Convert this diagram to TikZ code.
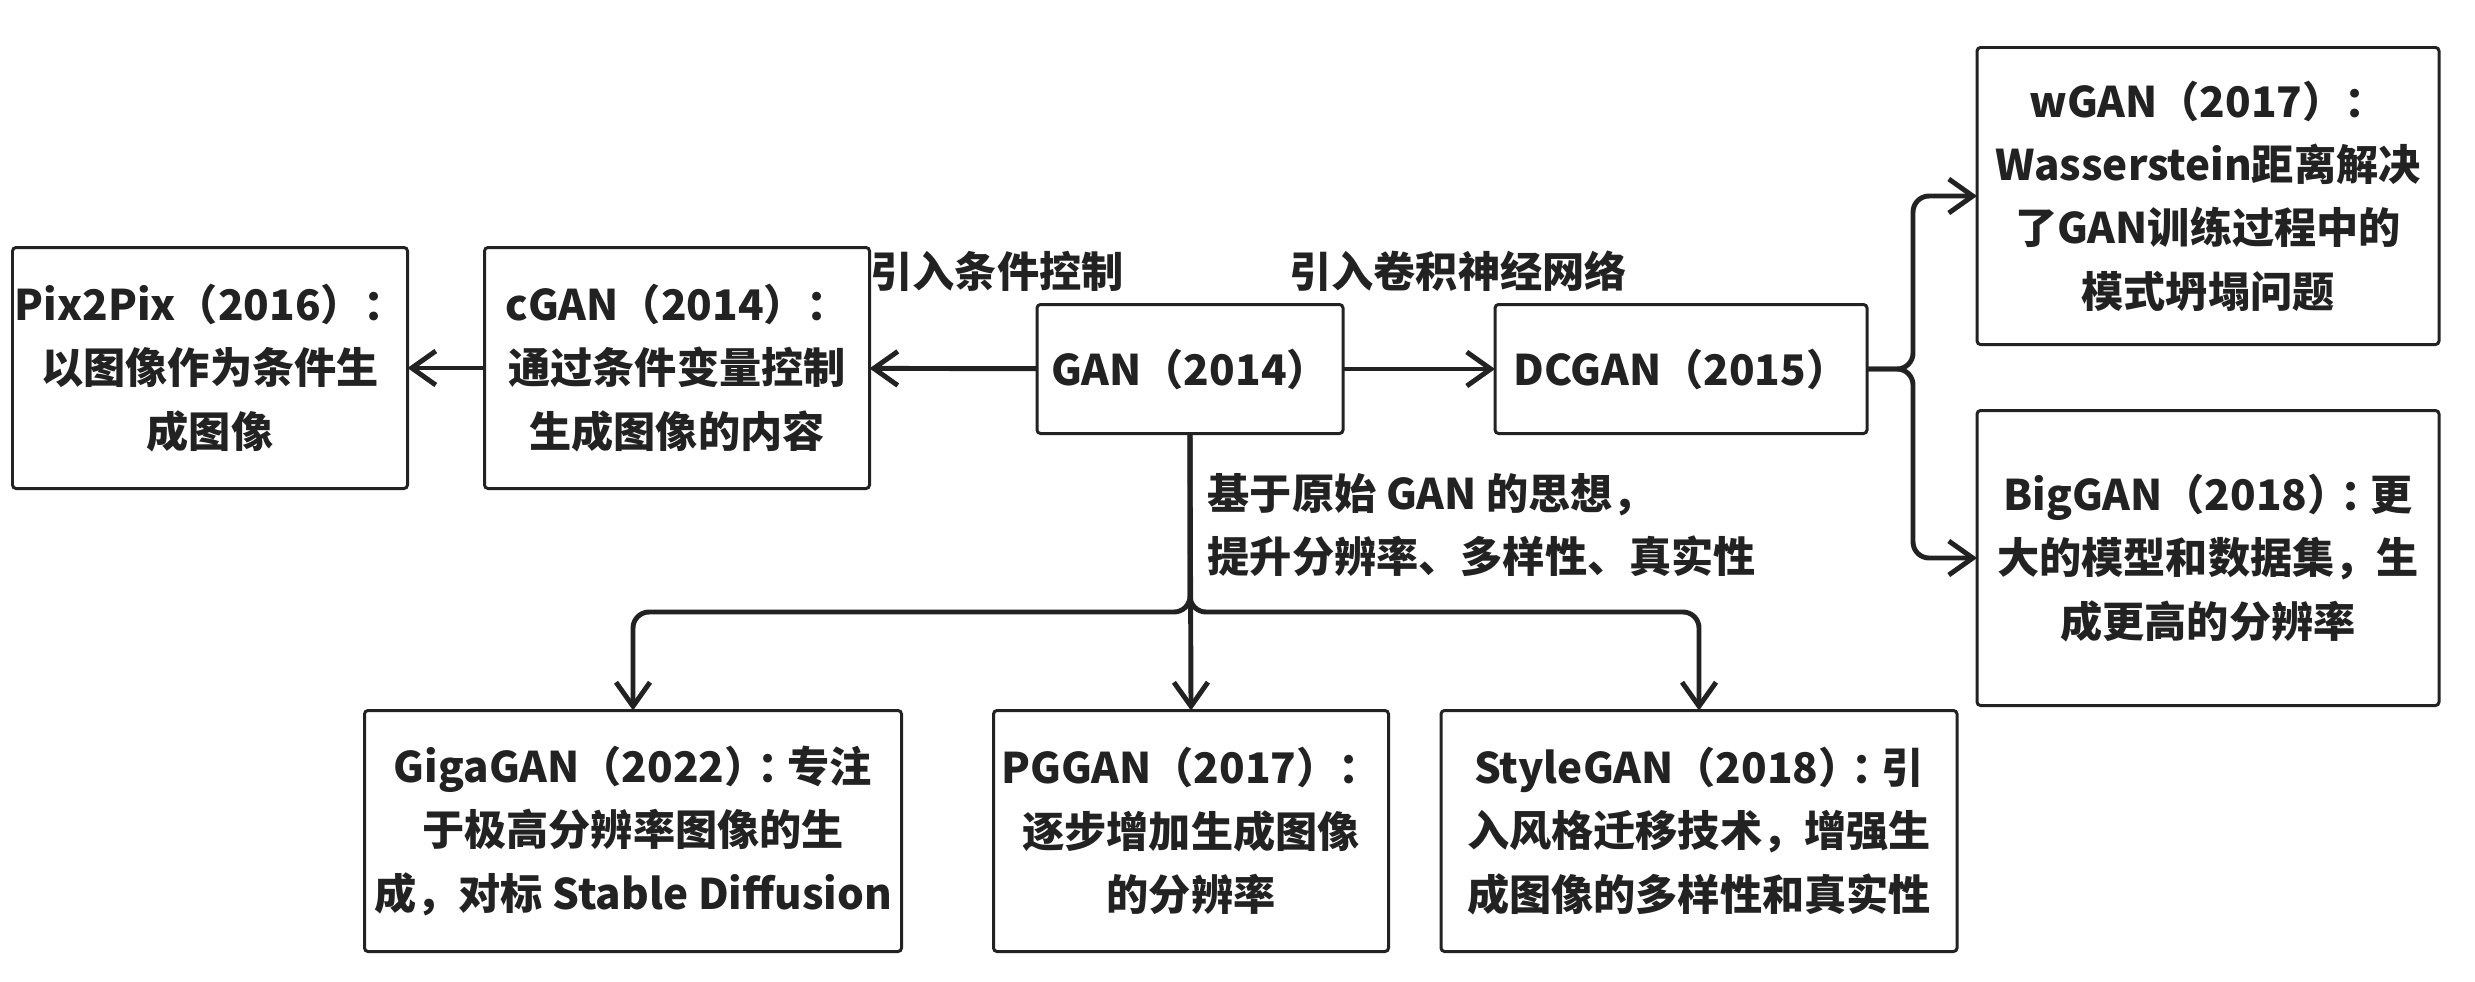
\documentclass[tikz,border=0pt]{standalone}
\usepackage{fontspec}
\setmainfont{Noto Sans CJK SC}
\usetikzlibrary{arrows.meta}
\definecolor{ink}{HTML}{222222}
\newcommand{\halfcolon}{\kern-0.22em：\kern-0.28em}

\begin{document}
\begin{tikzpicture}[
    box/.style={draw=ink, line width=0.85pt, rounded corners=1pt, align=center,
        inner sep=0pt, outer sep=0pt, minimum height=2.41cm},
    arr/.style={draw=ink, line width=1.4pt, rounded corners=0.16cm,
        -{Straight Barb[length=2.4mm, width=3.4mm, line width=1.4pt]}},
    lbl/.style={inner sep=0pt, text=ink},
    font=\fontsize{12}{18}\selectfont\bfseries, text=ink]
        \useasboundingbox (0,0) rectangle (24.75,-9.81);
        \node [box, minimum width=3.95cm] (pix) at (2.10,-3.68) {Pix2Pix（2016）：\\以图像作为条件生\\成图像};
        \node [box, minimum width=3.85cm] (cgan) at (6.77,-3.68) {cGAN（2014）：\\通过条件变量控制\\生成图像的内容};
        \node [box, minimum width=3.06cm, minimum height=1.29cm] (gan) at (11.90,-3.69) {GAN（2014）};
        \node [box, minimum width=3.72cm, minimum height=1.29cm] (dcgan) at (16.81,-3.69) {DCGAN（2015）};
        \node [box, minimum width=4.62cm, minimum height=2.97cm] (wgan) at (22.08,-1.96) {wGAN（2017）：\\Wasserstein距离解决\\了GAN训练过程中的\\模式坍塌问题};
        \node [box, minimum width=4.62cm, minimum height=2.95cm] (biggan) at (22.08,-5.58) {BigGAN（2018）\halfcolon 更\\大的模型和数据集，生\\成更高的分辨率};
        \node [box, minimum width=5.37cm] (giga) at (6.33,-8.31) {GigaGAN（2022）\halfcolon 专注\\于极高分辨率图像的生\\成，对标 Stable Diffusion};
        \node [box, minimum width=3.95cm] (pggan) at (11.91,-8.31) {PGGAN（2017）：\\逐步增加生成图像\\的分辨率};
        \node [box, minimum width=5.16cm] (style) at (16.99,-8.31) {StyleGAN（2018）\halfcolon 引\\入风格迁移技术，增强生\\成图像的多样性和真实性};
        % edge labels
        \node [lbl] (lcond) at (9.97,-2.71) {引入条件控制};
        \node [lbl] (lconv) at (14.58,-2.71) {引入卷积神经网络};
        \node [lbl, anchor=west, align=left] (lbase) at (12.07,-5.25) {基于原始 GAN 的思想，\\提升分辨率、多样性、真实性};
        \coordinate (fork) at (19.13,-3.69);
        \coordinate (split) at (11.90,-6.12);
        \draw [arr] (gan) -- (cgan);
        \draw [arr] (cgan) -- (pix);
        \draw [arr] (gan) -- (dcgan);
        \draw [arr] (dcgan.east) -- (fork) |- (wgan.west);
        \draw [arr] (dcgan.east) -- (fork) |- (biggan.west);
        \draw [arr] (gan.south) -- (pggan.north);
        \draw [arr] (gan.south) -- (split) -| (giga.north);
        \draw [arr] (gan.south) -- (split) -| (style.north);
    \end{tikzpicture}
\end{document}
